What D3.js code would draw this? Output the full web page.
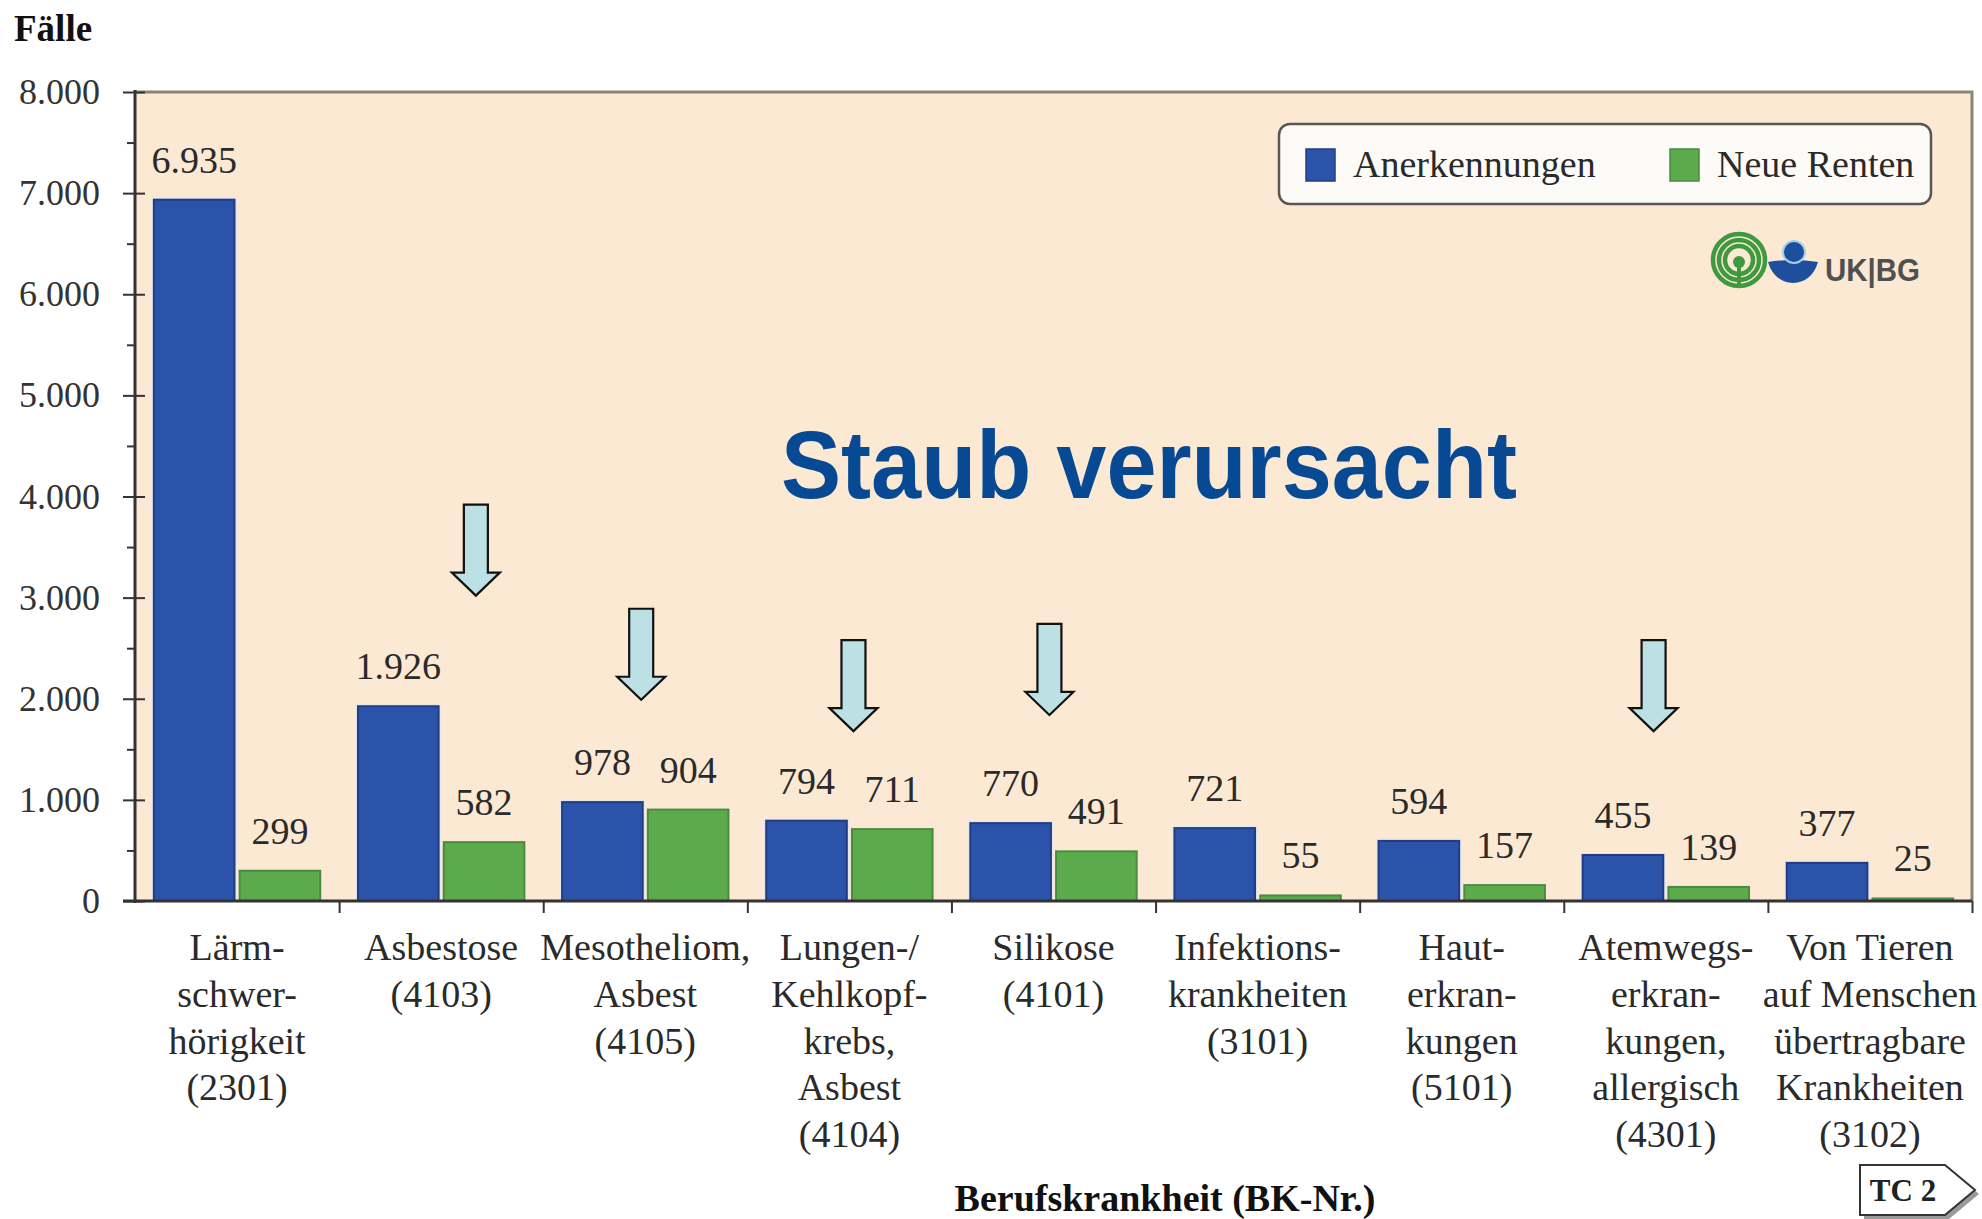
<!DOCTYPE html>
<html>
<head>
<meta charset="utf-8">
<script src="https://cdn.jsdelivr.net/npm/d3@7"></script>
<style>
  html, body { margin: 0; padding: 0; background: #fff; }
  svg { display: block; }
  .serif { font-family: "Liberation Serif", "Times New Roman", serif; }
</style>
</head>
<body>
<div id="container"></div>
<script>
// BK numbers and the label lines shown under each group
var bkIds = ["2301", "4103", "4105", "4104", "4101", "3101", "5101", "4301", "3102"];
var bkLabels = [
  ["Lärm-", "schwer-", "hörigkeit", "(2301)"],
  ["Asbestose", "(4103)"],
  ["Mesotheliom,", "Asbest", "(4105)"],
  ["Lungen-/", "Kehlkopf-", "krebs,", "Asbest", "(4104)"],
  ["Silikose", "(4101)"],
  ["Infektions-", "krankheiten", "(3101)"],
  ["Haut-", "erkran-", "kungen", "(5101)"],
  ["Atemwegs-", "erkran-", "kungen,", "allergisch", "(4301)"],
  ["Von Tieren", "auf Menschen", "übertragbare", "Krankheiten", "(3102)"]
];
var anerkennungen = [6935, 1926, 978, 794, 770, 721, 594, 455, 377];
var neueRenten = [299, 582, 904, 711, 491, 55, 157, 139, 25];
var seriesNames = ["Anerkennungen", "Neue Renten"];
var yTicks = [0, 1000, 2000, 3000, 4000, 5000, 6000, 7000, 8000];
var yMinor = [500, 1500, 2500, 3500, 4500, 5500, 6500, 7500];

// "Staub" arrows: group, value at arrow tip, shift inside the group (share of band)
var arrowIds = ["4103", "4105", "4104", "4101", "4301"];
var arrowTips = [3020, 1990, 1680, 1840, 1680];
var arrowShift = [0.17, -0.02, 0.02, -0.02, -0.06];

var width = 1982, height = 1219;
var plotL = 135, plotR = 1972, plotT = 92, plotB = 901;

var svg = d3.select("#container").append("svg")
    .attr("width", width)
    .attr("height", height);

var de = d3.formatLocale({decimal: ",", thousands: ".", grouping: [3], currency: ["", " €"]});
var fmt = de.format(",d");

var x = d3.scaleBand().domain(bkIds).range([plotL, plotR]).paddingInner(0).paddingOuter(0);
var xs = d3.scaleBand().domain(["a", "r"]).range([0, x.bandwidth()]).paddingInner(0.06).paddingOuter(0.22);
var y = d3.scaleLinear().domain([0, 8000]).range([plotB, plotT]);

// plot background
svg.append("rect")
    .attr("x", plotL).attr("y", plotT)
    .attr("width", plotR - plotL).attr("height", plotB - plotT)
    .attr("fill", "#fbe9d3");

// top + right frame
svg.append("path")
    .attr("d", "M" + plotL + "," + plotT + "H" + plotR + "V" + plotB)
    .attr("fill", "none")
    .attr("stroke", "#8a8474")
    .attr("stroke-width", 3);

// big annotation
svg.append("text")
    .attr("x", 781).attr("y", 498)
    .attr("textLength", 736)
    .attr("lengthAdjust", "spacingAndGlyphs")
    .style("font-family", "'Liberation Sans', Arial, sans-serif")
    .style("font-weight", "bold")
    .style("font-size", "96px")
    .attr("fill", "#074a93")
    .text("Staub verursacht");

// bars
var rows = bkIds.map(function(id, i) { return {id: id, a: anerkennungen[i], r: neueRenten[i]}; });

var grp = svg.append("g").selectAll("g")
  .data(rows)
  .enter().append("g")
    .attr("transform", function(d) { return "translate(" + x(d.id) + ",0)"; });

// pale halo round the blue bars
grp.append("rect")
    .attr("x", xs("a") - 2)
    .attr("y", function(d) { return y(d.a) - 2; })
    .attr("width", xs.bandwidth() + 4)
    .attr("height", function(d) { return y(0) - y(d.a) + 2; })
    .attr("fill", "#dfe7ef");
grp.append("rect")
    .attr("x", xs("a"))
    .attr("y", function(d) { return y(d.a); })
    .attr("width", xs.bandwidth())
    .attr("height", function(d) { return y(0) - y(d.a); })
    .attr("fill", "#2b53a9")
    .attr("stroke", "#223c86")
    .attr("stroke-width", 2);
grp.append("rect")
    .attr("x", xs("r"))
    .attr("y", function(d) { return y(d.r); })
    .attr("width", xs.bandwidth())
    .attr("height", function(d) { return y(0) - y(d.r); })
    .attr("fill", "#5bab4c")
    .attr("stroke", "#4a8a42")
    .attr("stroke-width", 2);

grp.append("text")
    .attr("class", "serif")
    .attr("x", xs("a") + xs.bandwidth() / 2)
    .attr("y", function(d) { return y(d.a) - 27; })
    .attr("text-anchor", "middle")
    .style("font-size", "38px")
    .attr("fill", "#2a2a2a")
    .text(function(d) { return fmt(d.a); });
grp.append("text")
    .attr("class", "serif")
    .attr("x", xs("r") + xs.bandwidth() / 2)
    .attr("y", function(d) { return y(d.r) - 27; })
    .attr("text-anchor", "middle")
    .style("font-size", "38px")
    .attr("fill", "#2a2a2a")
    .text(function(d) { return fmt(d.r); });

// y axis
var yAxis = svg.append("g")
    .attr("transform", "translate(" + plotL + ",0)")
    .call(d3.axisLeft(y).tickValues(yTicks).tickSize(12).tickPadding(23).tickFormat(fmt));
yAxis.selectAll(".tick line").attr("x1", 10).attr("stroke", "#333").attr("stroke-width", 2);
yAxis.select(".domain").attr("stroke", "#333").attr("stroke-width", 3)
    .attr("d", "M0," + (plotT - 2) + "V" + (plotB + 2));
yAxis.selectAll("text")
    .attr("class", "serif")
    .style("font-size", "36px")
    .attr("fill", "#333");

svg.append("g")
    .attr("transform", "translate(" + plotL + ",0)")
    .call(d3.axisLeft(y).tickValues(yMinor).tickSize(8).tickFormat(""))
    .call(function(g) {
      g.select(".domain").remove();
      g.selectAll(".tick line").attr("stroke", "#333").attr("stroke-width", 2);
    });

// x axis: ticks at the group borders
var xb = d3.scaleLinear().domain([0, bkIds.length]).range([plotL, plotR]);
var xAxis = svg.append("g")
    .attr("transform", "translate(0," + plotB + ")")
    .call(d3.axisBottom(xb).tickValues(d3.range(1, bkIds.length + 1)).tickSize(12).tickFormat(""));
xAxis.select(".domain").attr("stroke", "#333").attr("stroke-width", 3)
    .attr("d", "M" + (plotL - 12) + ",0H" + plotR);
xAxis.selectAll(".tick line").attr("stroke", "#333").attr("stroke-width", 2);

// category labels
var lab = svg.append("g").selectAll("text")
  .data(bkIds)
  .enter().append("text")
    .attr("class", "serif")
    .attr("text-anchor", "middle")
    .style("font-size", "38px")
    .attr("fill", "#2a2a2a")
    .attr("transform", function(d) { return "translate(" + (x(d) + x.bandwidth() / 2) + ",960)"; });
lab.selectAll("tspan")
  .data(function(d, i) { return bkLabels[i]; })
  .enter().append("tspan")
    .attr("x", 0)
    .attr("y", function(d, j) { return j * 46.8; })
    .text(function(d) { return d; });

// axis titles
svg.append("text")
    .attr("class", "serif")
    .attr("x", 14).attr("y", 41)
    .style("font-size", "37px")
    .style("font-weight", "bold")
    .attr("fill", "#111")
    .text("Fälle");
svg.append("text")
    .attr("class", "serif")
    .attr("x", 1165).attr("y", 1211)
    .attr("text-anchor", "middle")
    .style("font-size", "38px")
    .style("font-weight", "bold")
    .attr("fill", "#111")
    .text("Berufskrankheit (BK-Nr.)");

// arrows
var aw = 12, hw = 24, hl = 23, al = 91;
svg.append("g").selectAll("path")
  .data(arrowIds)
  .enter().append("path")
    .attr("d", function(d, i) {
      var cx = x(d) + x.bandwidth() * (0.5 + arrowShift[i]);
      var ty = y(arrowTips[i]);
      return "M" + (cx - aw) + "," + (ty - al) + "H" + (cx + aw) + "V" + (ty - hl) +
             "H" + (cx + hw) + "L" + cx + "," + ty + "L" + (cx - hw) + "," + (ty - hl) +
             "H" + (cx - aw) + "Z";
    })
    .attr("fill", "#bde0e5")
    .attr("stroke", "#111")
    .attr("stroke-width", 2.2)
    .attr("stroke-linejoin", "miter");

// legend
var colors = ["#2b53a9", "#5bab4c"];
var legend = svg.append("g").attr("transform", "translate(1279,124)");
legend.append("rect")
    .attr("width", 652).attr("height", 80).attr("rx", 11)
    .attr("fill", "#fdfbf8")
    .attr("stroke", "#5a5650")
    .attr("stroke-width", 2.5);
var legX = [27, 391];
var li = legend.selectAll("g.item")
  .data(seriesNames)
  .enter().append("g")
    .attr("transform", function(d, i) { return "translate(" + legX[i] + ",0)"; });
li.append("rect")
    .attr("y", 25).attr("width", 29).attr("height", 32)
    .attr("fill", function(d, i) { return colors[i]; })
    .attr("stroke", function(d, i) { return i ? "#4a8a42" : "#223c86"; })
    .attr("stroke-width", 1.5);
li.append("text")
    .attr("class", "serif")
    .attr("x", 47).attr("y", 53)
    .style("font-size", "38px")
    .attr("fill", "#2a2a2a")
    .text(function(d) { return d; });

// UK|BG logo
var logo = svg.append("g");
[26, 20, 14].forEach(function(r) {
  logo.append("circle").attr("cx", 1739).attr("cy", 260).attr("r", r)
      .attr("fill", "none").attr("stroke", "#3f9a3f").attr("stroke-width", 4.5);
});
logo.append("circle").attr("cx", 1739).attr("cy", 262).attr("r", 6).attr("fill", "#3f9a3f");
logo.append("rect").attr("x", 1737).attr("y", 266).attr("width", 4).attr("height", 22).attr("fill", "#3f9a3f");
logo.append("path")
    .attr("d", "M1768,262 Q1793,258 1818,262 Q1812,282 1793,283 Q1774,282 1768,262Z")
    .attr("fill", "#1d4f9e");
logo.append("circle").attr("cx", 1794).attr("cy", 252).attr("r", 11).attr("fill", "#1d4f9e")
    .attr("stroke", "#9fd2e6").attr("stroke-width", 2);
logo.append("text")
    .attr("x", 1825).attr("y", 281)
    .attr("textLength", 95)
    .attr("lengthAdjust", "spacingAndGlyphs")
    .style("font-family", "'Liberation Sans', Arial, sans-serif")
    .style("font-weight", "bold")
    .style("font-size", "31px")
    .attr("fill", "#505050")
    .text("UK|BG");

// TC 2 tag
var tag = "M1860,1165H1945L1975,1190L1945,1215H1860Z";
svg.append("path").attr("d", tag).attr("transform", "translate(4,4)").attr("fill", "#9a9a9a");
svg.append("path").attr("d", tag).attr("fill", "#fff").attr("stroke", "#333").attr("stroke-width", 2);
svg.append("text")
    .attr("class", "serif")
    .attr("x", 1903).attr("y", 1201)
    .attr("text-anchor", "middle")
    .style("font-size", "31px")
    .style("font-weight", "bold")
    .attr("fill", "#222")
    .text("TC 2");
</script>
</body>
</html>
